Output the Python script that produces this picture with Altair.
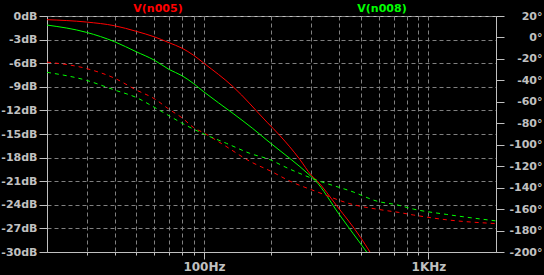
import altair as alt
import pandas as pd

# ---- data ----
series_names = ["V(n005)", "V(n008)"]
series_colors = ["#ff0000", "#00ff00"]

# magnitude (dB)
red_mag_f = [20, 30, 40, 50, 60, 70, 80, 90, 100, 135, 191, 218, 267, 300, 318, 390, 500, 549]
red_mag_db = [-0.47, -0.77, -1.24, -1.95, -2.64, -3.4, -4.1, -5.0, -6.0, -9.0, -13.5, -15.2, -18.2, -20.2, -20.9, -24.1, -28.2, -30.0]

green_mag_f = [20, 30, 40, 50, 60, 70, 80, 90, 100, 135, 165, 191, 300, 313, 400, 531]
green_mag_db = [-1.15, -2.08, -3.27, -4.55, -5.6, -6.8, -7.6, -8.6, -9.65, -12.4, -14.3, -15.8, -20.4, -20.9, -25.2, -30.0]

# phase (degrees)
red_ph_f = [20, 30, 40, 50, 60, 70, 80, 90, 100, 120, 162, 200, 242, 320, 447, 630, 733, 857, 1208, 2000]
red_ph_deg = [-23, -29, -38, -49, -57, -67, -75, -84, -89, -99, -116, -125, -134, -144, -155, -161, -163, -165.5, -170, -173.5]

green_ph_f = [20, 30, 40, 50, 60, 70, 80, 100, 126, 160, 200, 221, 318, 462, 592, 723, 857, 1208, 2000]
green_ph_deg = [-32.5, -40, -49, -56, -65, -73, -80, -90, -98.7, -108, -114.5, -119, -133, -144, -152.7, -156, -160, -165, -171]

# axes
x_tick_values = [30, 40, 50, 60, 70, 80, 90, 100, 200, 300, 400, 500, 600, 700, 800, 900, 1000]
x_label_values = [100, 1000]
x_label_texts = ["100Hz", "1KHz"]
db_ticks = [0, -3, -6, -9, -12, -15, -18, -21, -24, -27, -30]
deg_ticks = [20, 0, -20, -40, -60, -80, -100, -120, -140, -160, -180, -200]

# ---- tables ----
mag = pd.concat([
    pd.DataFrame({"f": red_mag_f, "v": red_mag_db, "s": series_names[0]}),
    pd.DataFrame({"f": green_mag_f, "v": green_mag_db, "s": series_names[1]}),
])
ph = pd.concat([
    pd.DataFrame({"f": red_ph_f, "v": red_ph_deg, "s": series_names[0]}),
    pd.DataFrame({"f": green_ph_f, "v": green_ph_deg, "s": series_names[1]}),
])

grey = "#c0c0c0"
font = "DejaVu Sans"

label_expr = " : ".join(
    f"datum.value == {v} ? '{t}'" for v, t in zip(x_label_values, x_label_texts)
) + " : ''"
major_test = " || ".join(f"datum.value == {v}" for v in x_label_values)

xscale = alt.Scale(type="log", domain=[20, 2000], nice=False, zero=False)
xaxis = alt.Axis(
    values=x_tick_values,
    labelExpr=label_expr,
    title=None,
    grid=True,
    tickSize={"condition": {"test": major_test, "value": 7}, "value": 3},
    labelOverlap=False,
    labelFlush=False,
    labelFontSize=12,
    labelPadding=2,
)
color = alt.Color("s:N", scale=alt.Scale(domain=series_names, range=series_colors), legend=None)

mag_layer = alt.Chart(mag).mark_line(strokeWidth=1, interpolate="monotone", clip=True).encode(
    x=alt.X("f:Q", scale=xscale, axis=xaxis),
    y=alt.Y("v:Q", scale=alt.Scale(domain=[-30, 0], nice=False),
            axis=alt.Axis(values=db_ticks, labelExpr="datum.value + 'dB'", title=None,
                          orient="left", grid=True, tickSize=8, labelPadding=2,
                          labelFlush=False, labelFontSize=11)),
    color=color,
    detail="s:N",
)

ph_layer = alt.Chart(ph).mark_line(strokeWidth=1, interpolate="monotone", strokeDash=[4, 4], clip=True).encode(
    x=alt.X("f:Q", scale=xscale, axis=xaxis),
    y=alt.Y("v:Q", scale=alt.Scale(domain=[-200, 20], nice=False),
            axis=alt.Axis(values=deg_ticks, labelExpr="datum.value + '°'", title=None,
                          orient="right", grid=False, tickSize=8, labelPadding=38,
                          labelAlign="right", labelFlush=False, labelFontSize=11)),
    color=color,
    detail="s:N",
)

t1 = alt.Chart(pd.DataFrame({"t": [series_names[0]]})).mark_text(
    font=font, fontWeight="bold", fontSize=11, color=series_colors[0], align="center", baseline="alphabetic"
).encode(text="t:N", x=alt.value(111), y=alt.value(-4))
t2 = alt.Chart(pd.DataFrame({"t": [series_names[1]]})).mark_text(
    font=font, fontWeight="bold", fontSize=11, color=series_colors[1], align="center", baseline="alphabetic"
).encode(text="t:N", x=alt.value(335), y=alt.value(-4))

chart = alt.layer(mag_layer, ph_layer, t1, t2).resolve_scale(y="independent").properties(
    width=449, height=236,
    padding={"left": 47, "top": 16, "right": 48, "bottom": 23},
    autosize=alt.AutoSizeParams(type="none"),
    background="#000000",
).configure_view(
    stroke=grey, strokeWidth=1, fill="#000000"
).configure_axis(
    domainColor=grey, tickColor=grey, labelColor=grey,
    gridColor="#808080", gridDash=[4, 3], gridWidth=1,
    labelFont=font, labelFontWeight="bold",
)

chart.save("out.html", embed_options={"renderer": "svg", "actions": False})
